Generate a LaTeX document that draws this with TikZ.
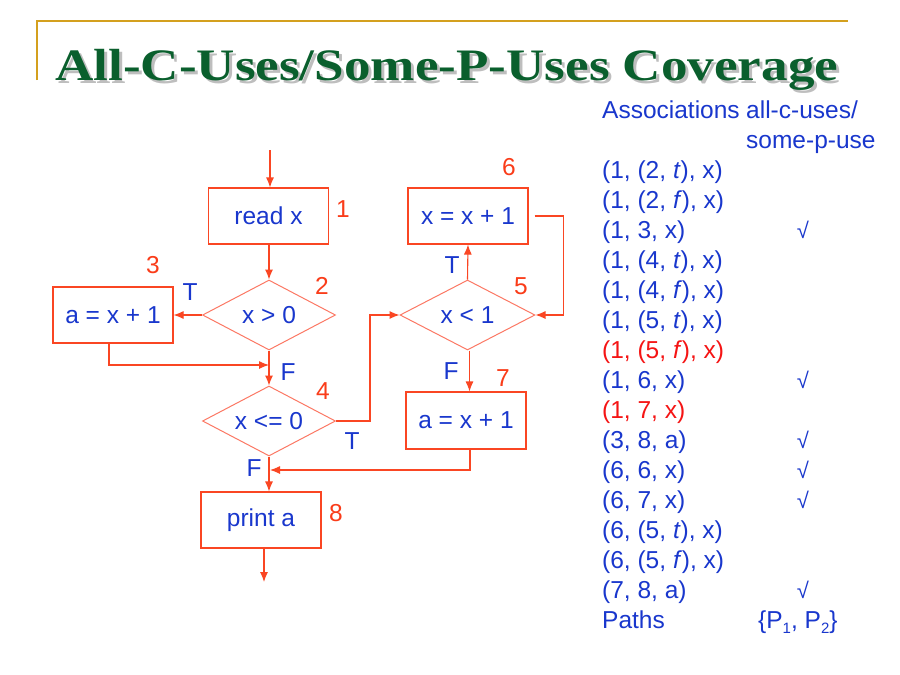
\documentclass[tikz,border=0pt]{standalone}
\usepackage{fontspec}
\setmainfont{Liberation Sans}
\newfontfamily\titlefont{Liberation Serif}
\usetikzlibrary{shapes.geometric,arrows.meta}
\definecolor{edgered}{RGB}{250,70,35}
\definecolor{diamred}{RGB}{252,120,100}
\definecolor{txtblue}{RGB}{25,55,205}
\definecolor{numred}{RGB}{250,60,25}
\definecolor{hotred}{RGB}{245,20,20}
\definecolor{titlegreen}{RGB}{10,95,45}
\definecolor{titleshade}{RGB}{190,190,190}
\definecolor{gold}{RGB}{212,160,30}
\newcommand{\lowidx}[1]{\raisebox{-0.22em}{\fontsize{15}{15}\selectfont #1}}
\newcommand{\titletext}{All-C-Uses/Some-P-Uses Coverage}
\begin{document}
\begin{tikzpicture}[x=1pt,y=-1pt,
  every node/.style={font=\fontsize{24.5}{28}\selectfont},
  stepbox/.style={draw=edgered,line width=1.1pt,rectangle,minimum width=120pt,minimum height=56pt,inner sep=0pt,text=txtblue},
  decision/.style={draw=diamred,line width=1pt,diamond,aspect=1.9,minimum width=133pt,minimum height=70pt,inner sep=0pt,text=txtblue},
  arr/.style={draw=edgered,line width=1.1pt,-{Latex[length=10pt,width=8pt]}},
  num/.style={text=numred,inner sep=0pt},
  branch/.style={text=txtblue,inner sep=0pt},
  row/.style={anchor=base west,text=txtblue,inner sep=0pt,font=\fontsize{24.5}{28}\selectfont},
  redrow/.style={row,text=hotred},
  tick/.style={anchor=base,text=txtblue,inner sep=0pt,font=\fontsize{22}{26}\selectfont}]
\useasboundingbox (0,0) rectangle (900,675);
\fill[white] (0,0) rectangle (900,675);

% heading rule and title (with its drop shadow)
\draw[gold,line width=2pt] (37,80) -- (37,21) -- (848,21);
\node[anchor=base west,inner sep=0pt] (title) at (55,80)
  {\titlefont\bfseries\fontsize{45}{50}\selectfont
   \makebox[0pt][l]{\hspace{3pt}\raisebox{-3pt}{\color{titleshade}\scalebox{1.18}[1]{\titletext}}}%
   {\color{titlegreen}\scalebox{1.18}[1]{\titletext}}};

% flow graph nodes
\node[stepbox] (n1) at (268.5,216) {read x};
\node[decision] (n2) at (269,315) {x > 0};
\node[stepbox] (n3) at (113,315) {a = x + 1};
\node[decision] (n4) at (269,421) {x <= 0};
\node[decision,minimum width=135pt] (n5) at (467.5,315) {x < 1};
\node[stepbox] (n6) at (468,216) {x = x + 1};
\node[stepbox,minimum height=57pt] (n7) at (466,420.5) {a = x + 1};
\node[stepbox] (n8) at (261,520) {print a};

% node numbers
\node[num] (l1) at (343,209) {1};
\node[num] (l2) at (322,286) {2};
\node[num] (l3) at (153,265) {3};
\node[num] (l4) at (323,391) {4};
\node[num] (l5) at (521,286) {5};
\node[num] (l6) at (509,167) {6};
\node[num] (l7) at (503,378) {7};
\node[num] (l8) at (336,513) {8};

% branch labels
\node[branch] (t2) at (190,292) {T};
\node[branch] (f2) at (288,372) {F};
\node[branch] (t4) at (352,441) {T};
\node[branch] (f4) at (254,468) {F};
\node[branch] (t5) at (452,265) {T};
\node[branch] (f5) at (451,371) {F};

% connectors
\coordinate (in) at (270,150);
\coordinate (j1) at (269,365);
\coordinate (j2) at (270,470);
\coordinate (out) at (264,582);
\draw[arr] (in) -- (in |- n1.north);
\draw[arr] (n1.south -| n2) -- (n2.north);
\draw[arr] (n2.west) -- (n3.east);
\draw[arr] ([xshift=-4pt]n3.south) |- (j1);
\draw[arr] (n2.south) -- (n4.north);
\draw[arr] (n4.east) -- ++(34,0) |- (n5.west);
\draw[arr] (n5.north) -- (n6.south);
\draw[arr] ([xshift=6pt]n6.east) -- ++(29,0) |- (n5.east);
\draw[arr] ([xshift=2pt]n5.south) -- ([xshift=2pt]n5.south |- n7.north);
\draw[arr] ([xshift=4pt]n7.south) |- (j2);
\draw[arr] (n4.south) -- (n4.south |- n8.north);
\draw[arr] (n8.south -| out) -- (out);

% association table
\node[row] (hassoc) at (602,118) {Associations};
\node[row] (hcov1) at (746,118) {all-c-uses/};
\node[row] (hcov2) at (746,148) {some-p-use};
\node[row] (r1) at (602,178) {(1, (2, \textit{t}), x)};
\node[row] (r2) at (602,208) {(1, (2, \textit{f}), x)};
\node[row] (r3) at (602,238) {(1, 3, x)};
\node[row] (r4) at (602,268) {(1, (4, \textit{t}), x)};
\node[row] (r5) at (602,298) {(1, (4, \textit{f}), x)};
\node[row] (r6) at (602,328) {(1, (5, \textit{t}), x)};
\node[redrow] (r7) at (602,358) {(1, (5, \textit{f}), x)};
\node[row] (r8) at (602,388) {(1, 6, x)};
\node[redrow] (r9) at (602,418) {(1, 7, x)};
\node[row] (r10) at (602,448) {(3, 8, a)};
\node[row] (r11) at (602,478) {(6, 6, x)};
\node[row] (r12) at (602,508) {(6, 7, x)};
\node[row] (r13) at (602,538) {(6, (5, \textit{t}), x)};
\node[row] (r14) at (602,568) {(6, (5, \textit{f}), x)};
\node[row] (r15) at (602,598) {(7, 8, a)};
\node[row] (rp) at (602,628) {Paths};
\node[row] (rpv) at (758,628) {\{P\lowidx{1}, P\lowidx{2}\}};

% coverage ticks
\node[tick] (c3) at (803,238) {√};
\node[tick] (c8) at (803,388) {√};
\node[tick] (c10) at (803,448) {√};
\node[tick] (c11) at (803,478) {√};
\node[tick] (c12) at (803,508) {√};
\node[tick] (c15) at (803,598) {√};
\end{tikzpicture}
\end{document}
